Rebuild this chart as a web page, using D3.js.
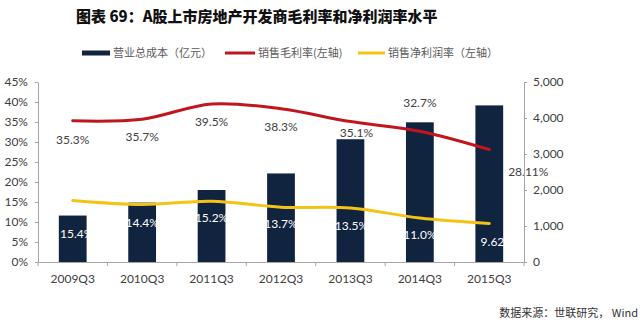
<!DOCTYPE html>
<html><head><meta charset="utf-8">
<script src="https://cdn.jsdelivr.net/npm/d3@7/dist/d3.min.js"></script>
<style>
html,body{margin:0;padding:0;background:#fff;}
svg{display:block;}
</style></head>
<body>
<svg id="chart" width="640" height="326"></svg>
<script>
// ---- data ----
const categories = ["2009Q3","2010Q3","2011Q3","2012Q3","2013Q3","2014Q3","2015Q3"];
const totalCost = [1290, 1650, 2000, 2460, 3410, 3880, 4350];          // 营业总成本（亿元） right axis
const grossMargin = [0.353, 0.357, 0.395, 0.383, 0.351, 0.327, 0.2811]; // 销售毛利率 left axis
const netMargin = [0.154, 0.144, 0.152, 0.137, 0.135, 0.110, 0.0962];   // 销售净利润率 left axis
const grossLabels = ["35.3%","35.7%","39.5%","38.3%","35.1%","32.7%","28.11%"];
const netLabels = ["15.4%","14.4%","15.2%","13.7%","13.5%","11.0%","9.62%"];
const leftTicks = [0,0.05,0.10,0.15,0.20,0.25,0.30,0.35,0.40,0.45];
const rightTicks = [0,1000,2000,3000,4000,5000];
const legendLabels = ["营业总成本（亿元）","销售毛利率(左轴)","销售净利润率（左轴）"];
const titleText = "图表 69：A股上市房地产开发商毛利率和净利润率水平";
const sourceText = "数据来源：世联研究， Wind";

// ---- layout (not data) ----
const L = 38, R = 524, T = 82, B = 262;
const grossLabelOffset = [[0,19],[0,18],[0,18],[0,18],[6,11],[0,-28],[39,22]];
const netLabelOffset = [[4,33],[0,18],[0,17],[0,17],[1,18],[0,17],[8,18]];
const C = {bar:"#10233f", red:"#c0161c", yellow:"#f3c416", axis:"#a6a6a6", text:"#404040"};
const FONT = "Lato, 'Open Sans', sans-serif";
const CJK = "'Noto Sans CJK SC', 'Noto Sans', sans-serif";

const svg = d3.select("#chart");

const x = d3.scaleBand().domain(categories).range([L, R]).paddingInner(0.6).paddingOuter(0.3);
const step = x.step();
const cx = c => x(c) + x.bandwidth()/2;
const yL = d3.scaleLinear().domain([0, 0.45]).range([B, T]);
const yR = d3.scaleLinear().domain([0, 5000]).range([B, T]);

// title
svg.append("text").attr("x", 76).attr("y", 22)
  .attr("font-family", CJK).attr("font-weight", 900).attr("font-size", 15)
  .attr("fill", "#111").text(titleText);

// legend
const lg = svg.append("g").attr("font-family", CJK).attr("font-size", 11).attr("fill", "#595959");
lg.append("rect").attr("x", 82).attr("y", 50.5).attr("width", 28).attr("height", 5).attr("fill", C.bar);
lg.append("text").attr("x", 113).attr("y", 53).attr("dy", "0.36em").text(legendLabels[0]);
lg.append("line").attr("x1", 225).attr("x2", 255).attr("y1", 53).attr("y2", 53).attr("stroke", C.red).attr("stroke-width", 3);
lg.append("text").attr("x", 258).attr("y", 53).attr("dy", "0.36em").text(legendLabels[1]);
lg.append("line").attr("x1", 358).attr("x2", 385).attr("y1", 53).attr("y2", 53).attr("stroke", C.yellow).attr("stroke-width", 3);
lg.append("text").attr("x", 388).attr("y", 53).attr("dy", "0.36em").text(legendLabels[2]);

// bars
svg.append("g").selectAll("rect").data(totalCost).join("rect")
  .attr("x", (d,i) => x(categories[i]))
  .attr("width", x.bandwidth())
  .attr("y", d => yR(d))
  .attr("height", d => B - yR(d))
  .attr("fill", C.bar);

// axes
const styleAxis = g => {
  g.select(".domain").attr("stroke", C.axis);
  g.selectAll(".tick line").attr("stroke", C.axis);
  g.selectAll(".tick text").attr("fill", C.text).attr("font-family", FONT).attr("font-size", 12);
};
svg.append("g").attr("transform", `translate(${L},0)`)
  .call(d3.axisLeft(yL).tickValues(leftTicks).tickFormat(d3.format(".0%")).tickSize(3).tickSizeOuter(0).tickPadding(7))
  .call(styleAxis);
svg.append("g").attr("transform", `translate(${R},0)`)
  .call(d3.axisRight(yR).tickValues(rightTicks).tickFormat(d3.format(",")).tickSize(3).tickSizeOuter(0).tickPadding(6))
  .call(styleAxis);
const xg = svg.append("g").attr("transform", `translate(0,${B})`)
  .call(d3.axisBottom(x).tickSize(0).tickPadding(12).tickSizeOuter(0))
  .call(styleAxis);
xg.select(".domain").attr("d", `M${L},0.5H${R}`);
const bounds = d3.range(categories.length + 1).map(i => L + i*step);
xg.selectAll(".bound").data(bounds).join("line").attr("class","bound")
  .attr("x1", d => d).attr("x2", d => d).attr("y1", 0).attr("y2", 4).attr("stroke", C.axis);

// lines
const line = d3.line().x((d,i) => cx(categories[i])).y(d => yL(d)).curve(d3.curveCatmullRom.alpha(0.5));
svg.append("path").datum(grossMargin).attr("d", line).attr("fill","none").attr("stroke", C.red).attr("stroke-width", 3).attr("stroke-linecap","round");
svg.append("path").datum(netMargin).attr("d", line).attr("fill","none").attr("stroke", C.yellow).attr("stroke-width", 3).attr("stroke-linecap","round");

// labels
svg.append("g").selectAll("text").data(grossMargin).join("text")
  .attr("x", (d,i) => cx(categories[i]) + grossLabelOffset[i][0])
  .attr("y", (d,i) => yL(d) + grossLabelOffset[i][1])
  .attr("dy", "0.35em").attr("text-anchor", "middle")
  .attr("font-family", FONT).attr("font-size", 12).attr("fill", C.text)
  .text((d,i) => grossLabels[i]);
svg.append("g").selectAll("text").data(netMargin).join("text")
  .attr("x", (d,i) => cx(categories[i]) + netLabelOffset[i][0])
  .attr("y", (d,i) => yL(d) + netLabelOffset[i][1])
  .attr("dy", "0.35em").attr("text-anchor", "middle")
  .attr("font-family", FONT).attr("font-size", 12).attr("fill", "#fff")
  .text((d,i) => netLabels[i]);

// re-draw right axis line on top (it crosses the 28.11% label)
svg.append("line").attr("x1", R+0.5).attr("x2", R+0.5).attr("y1", T).attr("y2", B).attr("stroke", C.axis);

// source
svg.append("text").attr("x", 638).attr("y", 313).attr("dy", "0.35em").attr("text-anchor", "end")
  .attr("font-family", CJK).attr("font-size", 11).attr("fill", "#333").text(sourceText);
</script>
</body></html>
